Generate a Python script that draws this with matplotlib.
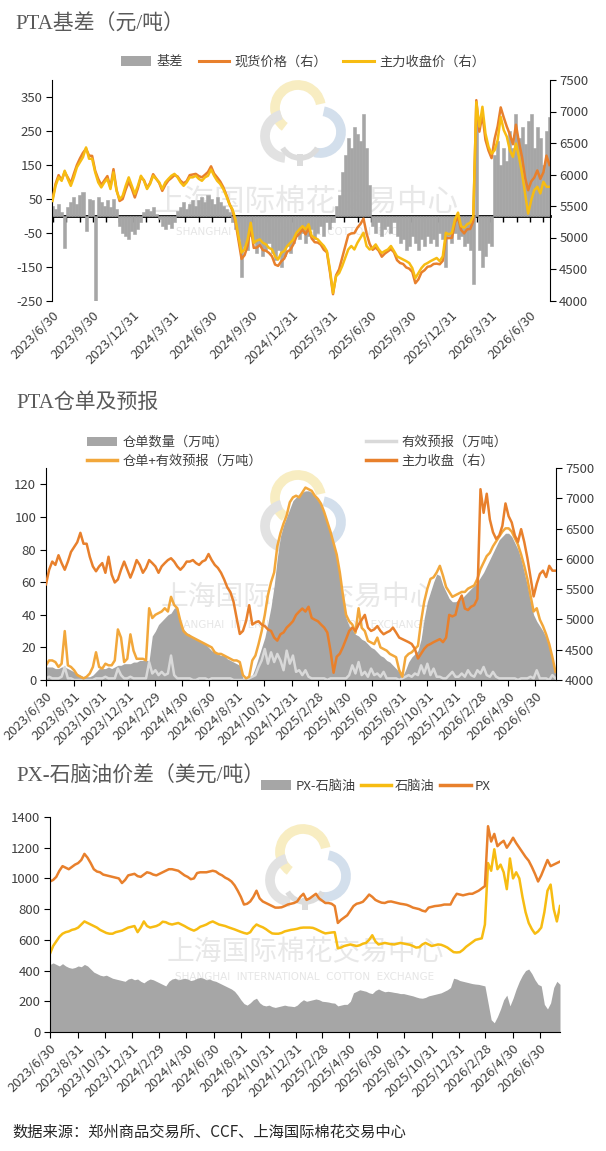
import numpy as np
import pandas as pd
import matplotlib
matplotlib.use('Agg')
import matplotlib.pyplot as plt
from matplotlib.patches import Rectangle, Arc, Patch
from matplotlib.lines import Line2D

plt.rcParams['font.family'] = ['Noto Sans CJK SC', 'DejaVu Sans']
plt.rcParams['axes.unicode_minus'] = False

start_date = '2023-06-30'

# ---------------- Panel 1: PTA basis (weekly) ----------------
basis = [30, 20, 35, 10, -95, 25, 40, 55, 35, 60,
         70, -45, 50, 45, -250, 55, 40, 30, 45, 25,
         50, 20, -30, -50, -60, -70, -45, -55, -40, -20,
         10, 20, 15, 25, 5, -10, -30, -40, -25, -35,
         -20, 15, 25, 40, 20, 35, 45, 30, 45, 55,
         40, 60, 50, 35, 55, 40, 30, 20, 10, -20,
         -40, -70, -180, -90, -100, -60, -80, -110, -90, -120,
         -100, -80, -110, -130, -100, -150, -120, -90, -110, -80,
         -60, -70, -50, -80, -60, -40, -70, -50, -30, -60,
         -20, -40, -20, 30, 60, 130, 180, 230, 200, 260,
         240, 220, 300, 200, 90, -30, -50, -20, -60, -40,
         -30, -50, -20, -60, -80, -70, -100, -90, -60, -80,
         -100, -70, -90, -60, -80, -70, -90, -50, -70, -150,
         -60, -80, -50, -70, -60, -90, -80, -100, -200, 300,
         -100, -150, -120, -80, -90, 180, 220, 150, 200, 160,
         250, 200, 300, 230, 260, 210, 280, 300, 200, 260,
         230, 150, 250, 290]

spot = [5610, 5850, 5990, 5910, 6040, 5955, 5860, 6010, 6150, 6255,
        6345, 6410, 6300, 6295, 6060, 5930, 5835, 5905, 5975, 5795,
        6085, 5760, 5580, 5610, 5760, 5885, 5775, 5635, 5780, 5960,
        5910, 5790, 5865, 6005, 5935, 5865, 5740, 5835, 5905, 5945,
        5990, 5970, 5900, 5860, 5895, 5990, 6000, 6010, 5975, 5955,
        5995, 6040, 6130, 6015, 5955, 5890, 5800, 5680, 5540, 5430,
        5250, 4950, 4660, 4720, 4870, 5175, 4835, 4840, 4880, 4800,
        4790, 4755, 4700, 4570, 4550, 4620, 4665, 4775, 4805, 4890,
        5015, 5060, 5130, 5050, 5150, 4985, 4925, 4920, 4885, 4805,
        4765, 4450, 4100, 4400, 4495, 4675, 4855, 5040, 5065, 5070,
        5155, 5215, 5300, 5065, 4900, 4805, 4840, 4790, 4695, 4745,
        4780, 4815, 4765, 4640, 4595, 4580, 4525, 4505, 4455, 4275,
        4335, 4445, 4480, 4535, 4545, 4580, 4585, 4575, 4630, 4990,
        4990, 4995, 5240, 5325, 5120, 5065, 5130, 5135, 5260, 7180,
        6680, 6950, 6550, 6380, 6260, 6565, 6765, 7065, 6905, 6760,
        6635, 6480, 6790, 6510, 6275, 5950, 5750, 5890, 5950, 6065,
        5930, 6035, 6300, 6150]

futures = [5580, 5820, 5955, 5900, 6060, 5930, 5820, 5955, 6115, 6195,
           6275, 6430, 6250, 6250, 6035, 5875, 5795, 5875, 5930, 5770,
           6035, 5740, 5610, 5660, 5820, 5955, 5820, 5690, 5820, 5980,
           5900, 5770, 5850, 5980, 5930, 5875, 5770, 5875, 5930, 5980,
           6010, 5955, 5875, 5820, 5875, 5955, 5955, 5980, 5930, 5900,
           5955, 5980, 6080, 5980, 5900, 5850, 5770, 5660, 5530, 5450,
           5290, 5020, 4760, 4810, 4970, 5235, 4915, 4950, 4970, 4915,
           4890, 4835, 4810, 4700, 4650, 4755, 4785, 4865, 4915, 4970,
           5075, 5130, 5180, 5130, 5210, 5025, 4995, 4970, 4915, 4865,
           4785, 4490, 4120, 4385, 4435, 4545, 4675, 4810, 4865, 4810,
           4915, 4995, 5075, 4865, 4810, 4835, 4890, 4810, 4755, 4785,
           4810, 4865, 4785, 4700, 4675, 4650, 4625, 4595, 4515, 4355,
           4435, 4515, 4570, 4595, 4625, 4650, 4675, 4625, 4700, 5075,
           5050, 5075, 5290, 5395, 5180, 5155, 5210, 5235, 5340, 7150,
           6760, 7075, 6650, 6440, 6330, 6385, 6545, 6915, 6705, 6600,
           6385, 6280, 6490, 6280, 6015, 5700, 5380, 5590, 5750, 5805,
           5700, 5885, 5805, 5805]

# ---------------- Panel 2: PTA warrants (weekly) ----------------
warrant = [8, 8, 8, 7, 7, 8, 8, 7, 6, 5,
           4, 3, 2, 2, 2, 3, 5, 7, 7, 7,
           8, 7, 8, 9, 9, 10, 10, 10, 11, 11,
           12, 12, 12, 12, 27, 30, 34, 36, 38, 40,
           41, 44, 45, 36, 31, 29, 28, 26, 25, 24,
           23, 22, 20, 18, 17, 16, 15, 15, 13, 12,
           11, 10, 9, 1, 0, 1, 3, 8, 14, 20,
           26, 35, 45, 58, 75, 88, 95, 100, 105, 110,
           112, 114, 115, 116, 116, 115, 113, 110, 107, 102,
           96, 90, 83, 75, 64, 48, 38, 33, 31, 28,
           27, 25, 24, 22, 20, 19, 17, 15, 14, 12,
           11, 9, 7, 5, 2, 6, 11, 14, 16, 18,
           25, 38, 48, 54, 60, 65, 64, 58, 54, 50,
           48, 48, 49, 50, 52, 54, 56, 58, 60, 63,
           66, 70, 74, 78, 82, 86, 88, 90, 90, 88,
           84, 80, 74, 66, 58, 48, 40, 36, 33, 30,
           26, 20, 12, 4]

forecast = [1, 2, 1, 1, 1, 2, 8, 1, 1, 0,
            0, 0, 0, 0, 0, 0, 1, 1, 1, 2,
            1, 1, 1, 7, 3, 1, 1, 2, 1, 1,
            1, 1, 1, 11, 4, 6, 3, 5, 3, 4,
            15, 3, 1, 1, 1, 1, 1, 0, 0, 1,
            1, 1, 0, 1, 1, 1, 1, 1, 1, 1,
            0, 0, 0, 0, 0, 1, 2, 3, 8, 12,
            19, 10, 17, 11, 16, 12, 6, 18, 10, 15,
            5, 6, 3, 6, 2, 1, 1, 1, 1, 1,
            0, 1, 1, 1, 1, 1, 1, 3, 9, 4,
            11, 3, 5, 2, 7, 3, 4, 2, 5, 1,
            1, 1, 1, 0, 1, 2, 3, 2, 4, 3,
            9, 4, 10, 3, 7, 2, 2, 1, 1, 3,
            5, 2, 2, 4, 2, 6, 3, 2, 6, 4,
            8, 3, 2, 5, 2, 1, 1, 1, 1, 1,
            1, 0, 1, 1, 1, 2, 1, 6, 1, 1,
            1, 0, 3, 1]

warrant_plus = [9, 12, 12, 11, 8, 10, 30, 9, 8, 6,
                3, 2, 1, 2, 4, 8, 17, 8, 7, 10,
                9, 9, 12, 31, 26, 11, 13, 28, 18, 13,
                13, 13, 12, 44, 38, 40, 41, 42, 44, 42,
                51, 46, 44, 36, 30, 28, 27, 26, 25, 24,
                23, 22, 21, 20, 17, 16, 16, 15, 14, 13,
                12, 12, 11, 3, 1, 2, 12, 15, 22, 30,
                40, 52, 60, 66, 82, 90, 96, 101, 109, 112,
                113, 112, 115, 118, 117, 116, 113, 111, 108, 103,
                97, 91, 84, 77, 66, 52, 40, 36, 34, 29,
                44, 32, 30, 24, 23, 22, 26, 20, 19, 18,
                16, 15, 14, 6, 2, 14, 16, 17, 19, 21,
                36, 48, 56, 62, 63, 66, 70, 64, 57, 54,
                51, 52, 53, 54, 54, 56, 57, 58, 62, 68,
                72, 76, 78, 82, 85, 88, 91, 93, 93, 91,
                87, 83, 77, 70, 62, 52, 42, 44, 37, 33,
                28, 22, 14, 5]

# ---------------- Panel 3: PX / naphtha (weekly) ----------------
px = [980, 990, 1010, 1050, 1080, 1070, 1060, 1075, 1090, 1100,
      1120, 1160, 1135, 1100, 1060, 1045, 1040, 1025, 1020, 1015,
      1010, 1005, 1000, 970, 990, 1020, 1025, 1030, 1015, 1010,
      1025, 1040, 1035, 1025, 1020, 1030, 1040, 1050, 1060, 1060,
      1055, 1050, 1035, 1020, 1010, 995, 1000, 1035, 1040, 1040,
      1040, 1045, 1050, 1045, 1030, 1020, 1005, 995, 980, 955,
      920, 880, 830, 835, 850, 880, 920, 870, 850, 840,
      830, 820, 810, 810, 812, 820, 830, 835, 840, 850,
      880, 900, 860, 870, 885, 900, 870, 855, 840, 840,
      835, 820, 710, 730, 745, 760, 790, 820, 835, 840,
      848, 870, 895, 880, 860, 850, 842, 840, 848, 850,
      845, 840, 835, 832, 828, 820, 810, 805, 800, 790,
      785, 810, 815, 820, 822, 825, 830, 830, 830, 870,
      900, 895, 890, 895, 900, 900, 910, 920, 935, 950,
      1340, 1240, 1290, 1210, 1230, 1245, 1200, 1230, 1265, 1230,
      1200, 1170, 1140, 1115, 1075, 1030, 980, 1020, 1070, 1120,
      1080, 1090, 1100, 1110]

naphtha = [510, 560, 590, 620, 640, 650, 655, 665, 670, 680,
           700, 720, 710, 700, 690, 680, 665, 655, 645, 640,
           640, 650, 655, 660, 670, 680, 685, 690, 650, 680,
           720, 690, 680, 685, 690, 700, 718, 715, 705, 700,
           705, 710, 700, 690, 678, 668, 660, 670, 685, 692,
           700, 712, 720, 710, 700, 695, 690, 682, 675, 668,
           660, 652, 645, 640, 650, 680, 700, 690, 682, 670,
           655, 642, 640, 640, 645, 655, 660, 665, 668, 672,
           678, 680, 680, 680, 678, 670, 660, 650, 642, 645,
           648, 650, 545, 550, 560, 565, 570, 565, 560, 565,
           575, 580, 600, 630, 590, 570, 575, 580, 576, 572,
           570, 575, 580, 576, 572, 568, 560, 550, 552, 570,
           580, 570, 560, 565, 570, 568, 560, 550, 535, 520,
           518, 520, 535, 555, 570, 585, 600, 605, 610, 700,
           1100, 1050, 1190, 1060, 1090, 1040, 930, 1130, 1000, 1040,
           1000, 880, 780, 710, 670, 640, 655, 680, 780, 920,
           960, 800, 720, 820]

px_naphtha = [440, 450, 440, 430, 445, 430, 420, 415, 420, 430,
              425, 440, 430, 410, 390, 380, 370, 365, 370, 360,
              350, 345, 340, 335, 330, 345, 350, 340, 345, 330,
              320, 335, 345, 340, 330, 320, 310, 300, 330, 345,
              350, 340, 345, 350, 345, 335, 340, 350, 355, 350,
              340, 345, 335, 330, 320, 310, 300, 290, 280, 265,
              240, 210, 185, 175, 190, 210, 220, 190, 175, 170,
              175, 165, 160, 165, 170, 175, 170, 168, 165, 175,
              195, 210, 200, 205, 210, 215, 210, 200, 198, 195,
              190, 188, 170, 175, 180, 180, 200, 255, 265, 275,
              270, 265, 255, 250, 270, 280, 270, 262, 265, 262,
              258, 255, 250, 250, 245, 240, 235, 228, 222, 220,
              225, 235, 240, 245, 250, 255, 265, 275, 290, 350,
              345, 335, 330, 325, 320, 315, 312, 310, 305, 300,
              190, 80, 60, 100, 150, 210, 240, 170, 220, 280,
              330, 370, 400, 410, 380, 340, 310, 300, 180, 150,
              190, 290, 330, 310]

p1_ticks = ['2023/6/30', '2023/9/30', '2023/12/31', '2024/3/31', '2024/6/30',
            '2024/9/30', '2024/12/31', '2025/3/31', '2025/6/30', '2025/9/30',
            '2025/12/31', '2026/3/31', '2026/6/30']
p23_ticks = ['2023/6/30', '2023/8/31', '2023/10/31', '2023/12/31', '2024/2/29',
             '2024/4/30', '2024/6/30', '2024/8/31', '2024/10/31', '2024/12/31',
             '2025/2/28', '2025/4/30', '2025/6/30', '2025/8/31', '2025/10/31',
             '2025/12/31', '2026/2/28', '2026/4/30', '2026/6/30']


def wdates(series):
    return pd.date_range(start_date, periods=len(series), freq='7D')


W_, H_ = 606, 1151
fig = plt.figure(figsize=(W_ / 100, H_ / 100), dpi=100)

TXT = '#404040'
GRAY = '#A6A6A6'
ORANGE = '#E8802C'
YELLOW = '#F7BC12'
LORANGE = '#F2A73B'


def box(x0, y0, x1, y1):
    return [x0 / W_, 1 - y1 / H_, (x1 - x0) / W_, (y1 - y0) / H_]


def fx(x):
    return x / W_


def fy(y):
    return 1 - y / H_


# ---------------- watermarks (behind everything) ----------------
def watermark(tx, ty, fs, ey, efs, lcx, lcy):
    fig.text(fx(tx), fy(ty), '上海国际棉花交易中心', fontsize=fs, color='#E8E8E8',
             ha='center', va='center', zorder=-2)
    fig.text(fx(tx), fy(ey), 'SHANGHAI  INTERNATIONAL  COTTON  EXCHANGE', fontsize=efs,
             color='#E6E6E6', ha='center', va='center', zorder=-2, family=['DejaVu Sans'])
    tr = fig.dpi_scale_trans

    def arc(cx, cy, d, t1, t2, col, lw=7):
        a = Arc((cx / 100, (H_ - cy) / 100), d / 100, d / 100, theta1=t1, theta2=t2,
                transform=tr, color=col, lw=lw, zorder=-2)
        fig.add_artist(a)
    arc(lcx - 2, lcy - 14, 46, 10, 235, '#F8EDC2')
    arc(lcx - 13, lcy + 14, 44, 105, 265, '#E2E2E2')
    arc(lcx + 20, lcy + 10, 42, -105, 80, '#D3DFEC')
    arc(lcx, lcy + 16, 40, 210, 330, '#DCDCDC', lw=4)
    r = Rectangle(((lcx - 3) / 100, (H_ - lcy - 44) / 100), 0.06, 0.12, transform=tr,
                  color='#DCDCDC', zorder=-2, lw=0)
    fig.add_artist(r)


watermark(306, 202, 22, 232, 7.5, 300, 122)
watermark(299, 597, 20, 625, 7.5, 300, 512)
watermark(305, 952, 20, 977, 7.5, 305, 866)

# ---------------- Panel 1 ----------------
fig.text(fx(15), fy(25), 'PTA基差（元/吨）', fontsize=15, color='#595959', va='center',
         family=['Liberation Serif', 'Noto Sans CJK SC'])

ax1 = fig.add_axes(box(52.5, 80, 549.5, 300.5))
ax1.patch.set_visible(False)
ax1.bar(wdates(basis), basis, width=7.0, color=GRAY, edgecolor=GRAY, linewidth=0.4, zorder=1)
ax1.set_ylim(-250, 400)
ax1.set_yticks(np.arange(-250, 351, 100))
ax1b = ax1.twinx()
ax1b.patch.set_visible(False)
ax1b.plot(wdates(spot), spot, color=ORANGE, lw=1.8)
ax1b.plot(wdates(futures), futures, color=YELLOW, lw=1.8)
ax1b.set_ylim(4000, 7500)
ax1b.set_yticks(np.arange(4000, 7501, 500))
d_end = wdates(futures)[-1]
ax1.set_xlim(pd.Timestamp(start_date), d_end)
ax1.set_xticks(pd.to_datetime(p1_ticks))
ax1.set_xticklabels(p1_ticks, rotation=45, ha='right', va='top', rotation_mode='anchor')
ax1.tick_params(axis='x', length=0, pad=6, labelsize=9.5, labelcolor=TXT)
for a in (ax1, ax1b):
    for s in ('top', 'bottom'):
        a.spines[s].set_visible(False)
ax1.spines['right'].set_visible(False)
ax1b.spines['left'].set_visible(False)
ax1.spines['left'].set_color('black')
ax1b.spines['right'].set_color('black')
ax1.tick_params(axis='y', length=4, width=0.8, labelsize=9.5, labelcolor=TXT, pad=3)
ax1b.tick_params(axis='y', length=4, width=0.8, labelsize=9.5, labelcolor=TXT, pad=3)

sec = ax1.secondary_xaxis(250 / 650)
sec.spines['bottom'].set_linewidth(2)
sec.spines['bottom'].set_color('black')
sec.set_xticks(pd.date_range(start_date, d_end, freq='ME'))
sec.tick_params(axis='x', length=4, width=1, direction='out', labelbottom=False, labeltop=False)

h1 = [Patch(facecolor=GRAY, edgecolor='none'),
      Line2D([], [], color=ORANGE, lw=2.2),
      Line2D([], [], color=YELLOW, lw=2.2)]
fig.legend(h1, ['基差', '现货价格（右）', '主力收盘价（右）'], loc='center',
           bbox_to_anchor=(fx(303), fy(62)), ncol=3, frameon=False, fontsize=9.5,
           handlelength=2.3, handletextpad=0.4, columnspacing=1.2, labelcolor=TXT,
           borderpad=0, borderaxespad=0)

# ---------------- Panel 2 ----------------
fig.text(fx(16), fy(403), 'PTA仓单及预报', fontsize=15, color='#595959', va='center',
         family=['Liberation Serif', 'Noto Sans CJK SC'])
ax2 = fig.add_axes(box(46, 468, 555.5, 680))
ax2.patch.set_visible(False)
ax2.fill_between(wdates(warrant), warrant, color=GRAY, lw=0)
ax2.plot(wdates(forecast), forecast, color='#D9D9D9', lw=1.8)
ax2.plot(wdates(warrant_plus), warrant_plus, color=LORANGE, lw=1.8)
ax2.set_ylim(0, 130)
ax2.set_yticks(np.arange(0, 121, 20))
ax2b = ax2.twinx()
ax2b.patch.set_visible(False)
ax2b.plot(wdates(futures), futures, color=ORANGE, lw=1.8)
ax2b.set_ylim(4000, 7500)
ax2b.set_yticks(np.arange(4000, 7501, 500))
ax2.set_xlim(pd.Timestamp(start_date), d_end)
ax2.set_xticks(pd.to_datetime(p23_ticks))
ax2.set_xticklabels(p23_ticks, rotation=45, ha='right', va='top', rotation_mode='anchor')
ax2.tick_params(axis='x', length=4, width=0.8, pad=3, labelsize=9.5, labelcolor=TXT)
for a in (ax2, ax2b):
    a.spines['top'].set_visible(False)
ax2.spines['right'].set_visible(False)
ax2b.spines['left'].set_visible(False)
ax2b.spines['bottom'].set_visible(False)
ax2.tick_params(axis='y', length=4, width=0.8, labelsize=9.5, labelcolor=TXT, pad=3)
ax2b.tick_params(axis='y', length=4, width=0.8, labelsize=9.5, labelcolor=TXT, pad=3)

legA = fig.legend([Patch(facecolor=GRAY, edgecolor='none'), Line2D([], [], color=LORANGE, lw=2.5)],
                  ['仓单数量（万吨）', '仓单+有效预报（万吨）'], loc='center left',
                  bbox_to_anchor=(fx(87), fy(452)), frameon=False, fontsize=9.5,
                  handlelength=2.3, handletextpad=0.4, labelspacing=0.45, labelcolor=TXT,
                  borderpad=0, borderaxespad=0)
legB = fig.legend([Line2D([], [], color='#D9D9D9', lw=2.5), Line2D([], [], color=ORANGE, lw=2.5)],
                  ['有效预报（万吨）', '主力收盘（右）'], loc='center left',
                  bbox_to_anchor=(fx(366), fy(452)), frameon=False, fontsize=9.5,
                  handlelength=2.3, handletextpad=0.4, labelspacing=0.45, labelcolor=TXT,
                  borderpad=0, borderaxespad=0)

# ---------------- Panel 3 ----------------
fig.text(fx(16), fy(777), 'PX-石脑油价差（美元/吨）', fontsize=15, color='#595959', va='center',
         family=['Liberation Serif', 'Noto Sans CJK SC'])
ax3 = fig.add_axes(box(50, 817, 560, 1032))
ax3.patch.set_visible(False)
ax3.fill_between(wdates(px_naphtha), px_naphtha, color=GRAY, lw=0)
ax3.plot(wdates(naphtha), naphtha, color=YELLOW, lw=1.8)
ax3.plot(wdates(px), px, color=ORANGE, lw=1.8)
ax3.set_ylim(0, 1400)
ax3.set_yticks(np.arange(0, 1401, 200))
ax3.set_xlim(pd.Timestamp(start_date), d_end)
ax3.set_xticks(pd.to_datetime(p23_ticks))
ax3.set_xticklabels(p23_ticks, rotation=45, ha='right', va='top', rotation_mode='anchor')
ax3.tick_params(axis='x', length=4, width=0.8, pad=3, labelsize=9.5, labelcolor=TXT)
ax3.tick_params(axis='y', length=4, width=0.8, labelsize=9.5, labelcolor=TXT, pad=3)
ax3.spines['top'].set_visible(False)
ax3.spines['right'].set_visible(False)

fig.legend([Patch(facecolor=GRAY, edgecolor='none'), Line2D([], [], color=YELLOW, lw=2.5),
            Line2D([], [], color=ORANGE, lw=2.5)],
           ['PX-石脑油', '石脑油', 'PX'], loc='center left',
           bbox_to_anchor=(fx(261), fy(786)), ncol=3, frameon=False, fontsize=9.5,
           handlelength=2.3, handletextpad=0.3, columnspacing=0.4, labelcolor=TXT,
           borderpad=0, borderaxespad=0)

fig.text(fx(12), fy(1132), '数据来源：郑州商品交易所、CCF、上海国际棉花交易中心',
         fontsize=11, color='#262626', va='center')

fig.savefig('out.png', dpi=100)
